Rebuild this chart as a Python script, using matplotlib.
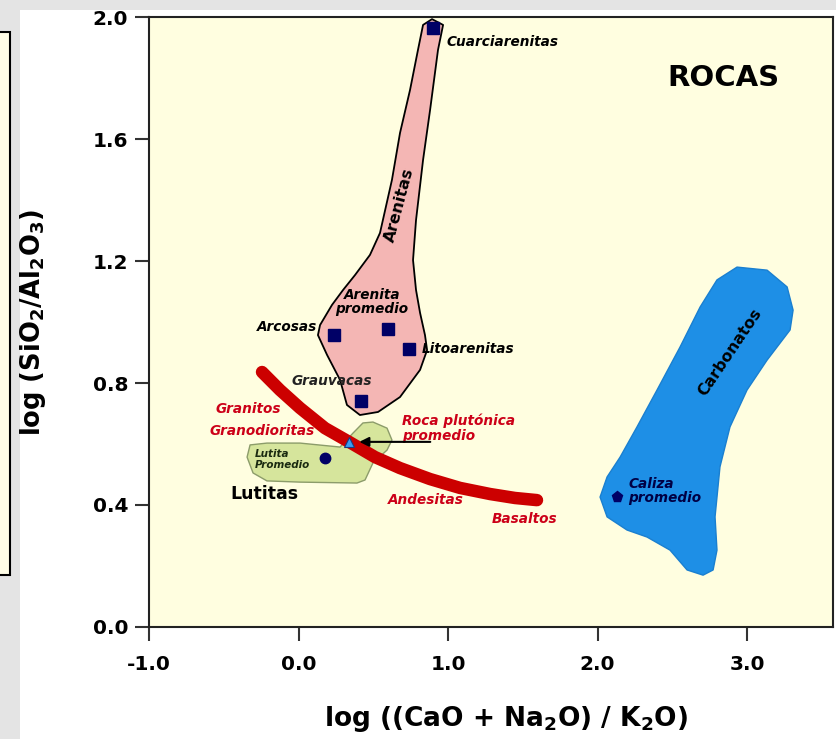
import numpy as np
import matplotlib
matplotlib.use('Agg')
import matplotlib.pyplot as plt
from matplotlib.patches import Polygon, Rectangle

plt.rcParams['font.family'] = ['DejaVu Sans']

# average compositions
sed_names = ['Cuarciarenitas', 'Arcosas', 'Arenita promedio', 'Litoarenitas', 'Grauvacas']
sed_x = np.array([0.90, 0.237, 0.599, 0.739, 0.418])
sed_y = np.array([1.964, 0.957, 0.977, 0.911, 0.741])

lutita_x, lutita_y = 0.177, 0.554
plutonica_x, plutonica_y = 0.338, 0.607
caliza_x, caliza_y = 2.130, 0.426

# igneous trend (granitos -> basaltos)
trend_x = np.array([-0.244, -0.124, 0.010, 0.177, 0.338, 0.512, 0.679, 0.880, 1.080, 1.281, 1.448, 1.595])
trend_y = np.array([0.836, 0.777, 0.718, 0.652, 0.607, 0.557, 0.521, 0.485, 0.456, 0.436, 0.423, 0.416])

# fields
arenitas_x = [0.893, 0.967, 0.933, 0.880, 0.833, 0.786, 0.766, 0.786, 0.813, 0.846, 0.860, 0.813,
              0.679, 0.532, 0.411, 0.324, 0.278, 0.191, 0.130, 0.144, 0.224, 0.298, 0.378, 0.478,
              0.545, 0.625, 0.679, 0.746, 0.799, 0.833]
arenitas_y = [1.993, 1.974, 1.892, 1.695, 1.531, 1.334, 1.203, 1.105, 1.030, 0.957, 0.908, 0.843,
              0.754, 0.705, 0.695, 0.728, 0.810, 0.892, 0.957, 0.990, 1.056, 1.105, 1.154, 1.220,
              1.292, 1.466, 1.620, 1.761, 1.892, 1.974]

lutitas_x = [-0.324, -0.211, 0.010, 0.278, 0.365, 0.431, 0.498, 0.592, 0.625, 0.592, 0.498,
             0.445, 0.391, 0.010, -0.211, -0.304, -0.344]
lutitas_y = [0.597, 0.603, 0.603, 0.590, 0.636, 0.669, 0.672, 0.652, 0.613, 0.580, 0.538,
             0.482, 0.472, 0.475, 0.479, 0.505, 0.557]

carbonatos_x = [2.933, 3.134, 3.268, 3.308, 3.288, 3.134, 3.000, 2.886, 2.819, 2.786, 2.799, 2.773,
                2.706, 2.599, 2.485, 2.331, 2.197, 2.064, 2.017, 2.064, 2.151, 2.264, 2.398, 2.552,
                2.686, 2.799]
carbonatos_y = [1.180, 1.170, 1.115, 1.039, 0.974, 0.875, 0.777, 0.656, 0.525, 0.361, 0.252, 0.187,
                0.170, 0.187, 0.252, 0.295, 0.318, 0.361, 0.426, 0.492, 0.557, 0.656, 0.777, 0.918,
                1.049, 1.138]

xticks = [-1.0, 0.0, 1.0, 2.0, 3.0]
yticks = [0.0, 0.4, 0.8, 1.2, 1.6, 2.0]

fig = plt.figure(figsize=(8.36, 7.39), dpi=100, facecolor='#e4e4e4')
# page background pieces
fig.patches.append(Rectangle((20 / 836, 0), 1, 1 - 10 / 739, transform=fig.transFigure,
                             facecolor='white', edgecolor='none', zorder=-5))
fig.patches.append(Rectangle((-0.01, 1 - 575 / 739), 10 / 836 + 0.01, (575 - 32) / 739,
                             transform=fig.transFigure, facecolor='#fffde6',
                             edgecolor='black', linewidth=1.5, zorder=-4))

ax = fig.add_axes([149 / 836, 1 - 627 / 739, 684 / 836, 610 / 739])
ax.set_facecolor('#fffee0')

ax.add_patch(Polygon(np.column_stack([arenitas_x, arenitas_y]), closed=True,
                     facecolor='#f4b6b4', edgecolor='black', linewidth=1.3, joinstyle='round', zorder=2))
ax.add_patch(Polygon(np.column_stack([lutitas_x, lutitas_y]), closed=True,
                     facecolor='#d6e59c', edgecolor='#8c9c6a', linewidth=1.0, joinstyle='round', zorder=2))
ax.add_patch(Polygon(np.column_stack([carbonatos_x, carbonatos_y]), closed=True,
                     facecolor='#1e8fe6', edgecolor='#1a7fd0', linewidth=1.0, joinstyle='round', zorder=2))

ax.plot(trend_x, trend_y, color='#cc0000', linewidth=9, solid_capstyle='round',
        solid_joinstyle='round', zorder=3)

ax.plot(sed_x, sed_y, 's', color='#000066', markersize=8.5, zorder=5)
ax.plot([lutita_x], [lutita_y], 'o', color='#000066', markersize=7.5, zorder=5)
ax.plot([caliza_x], [caliza_y], 'p', color='#000066', markersize=8, zorder=5)
ax.annotate('', xy=(plutonica_x + 0.05, plutonica_y), xytext=(0.90, plutonica_y),
            arrowprops=dict(arrowstyle='-|>', color='black', lw=1.5, mutation_scale=14), zorder=6)
ax.plot([plutonica_x], [plutonica_y], '^', color='#3b9cf0', markeredgecolor='#1a3a80',
        markersize=7, markeredgewidth=0.8, zorder=6)

fs = 9.8
bi = dict(fontweight='bold', style='italic')
ax.text(0.993, 1.918, 'Cuarciarenitas', fontsize=fs, ha='left', va='center', **bi)
ax.text(0.124, 0.984, 'Arcosas', fontsize=fs, ha='right', va='center', **bi)
ax.text(0.492, 1.066, 'Arenita\npromedio', fontsize=fs, ha='center', va='center',
        linespacing=1.05, **bi)
ax.text(0.826, 0.911, 'Litoarenitas', fontsize=fs, ha='left', va='center', **bi)
ax.text(0.224, 0.807, 'Grauvacas', fontsize=fs, ha='center', va='center', color='#222222', **bi)
ax.text(0.672, 1.384, 'Arenitas', fontsize=11.5, ha='center', va='center', rotation=75,
        fontweight='bold')
ax.text(2.84, 1.80, 'ROCAS', fontsize=21, ha='center', va='center', fontweight='bold')

red = '#cc0018'
ax.text(-0.338, 0.715, 'Granitos', fontsize=fs, ha='center', va='center', color=red, **bi)
ax.text(-0.244, 0.643, 'Granodioritas', fontsize=fs, ha='center', va='center', color=red, **bi)
ax.text(0.692, 0.652, 'Roca plutónica\npromedio', fontsize=fs, ha='left', va='center',
        color=red, linespacing=1.05, **bi)
ax.text(0.853, 0.416, 'Andesitas', fontsize=fs, ha='center', va='center', color=red, **bi)
ax.text(1.515, 0.354, 'Basaltos', fontsize=fs, ha='center', va='center', color=red, **bi)

ax.text(-0.291, 0.548, 'Lutita\nPromedio', fontsize=7.5, ha='left', va='center',
        color='#1a2a10', linespacing=1.1, **bi)
ax.text(-0.458, 0.436, 'Lutitas', fontsize=12.5, ha='left', va='center', fontweight='bold')

ax.text(2.886, 0.902, 'Carbonatos', fontsize=11.3, ha='center', va='center', rotation=56,
        fontweight='bold')
ax.text(2.204, 0.446, 'Caliza\npromedio', fontsize=fs, ha='left', va='center',
        color='#000044', linespacing=1.05, **bi)

ax.set_xlim(-1.0, 3.575)
ax.set_ylim(0.0, 2.0)
ax.set_xticks(xticks)
ax.set_yticks(yticks)
ax.set_xticklabels(['%.1f' % v for v in xticks])
ax.set_yticklabels(['%.1f' % v for v in yticks])
ax.tick_params(direction='out', length=10, width=1.5, labelsize=14.5, color='#333333')
ax.tick_params(axis='x', pad=10)
ax.tick_params(axis='y', pad=5)
for lab in ax.get_xticklabels() + ax.get_yticklabels():
    lab.set_fontweight('bold')
for s in ax.spines.values():
    s.set_linewidth(1.5)
    s.set_color('#222222')

ax.set_xlabel(r'log ((CaO + Na$_\mathbf{2}$O) / K$_\mathbf{2}$O)', fontsize=19,
              fontweight='bold', labelpad=22)
ax.xaxis.label.set_x((506 - 149) / 684)
ax.set_ylabel(r'log (SiO$_\mathbf{2}$/Al$_\mathbf{2}$O$_\mathbf{3}$)', fontsize=18.5,
              fontweight='bold', labelpad=32)

fig.savefig('out.png', dpi=100, facecolor=fig.get_facecolor())
